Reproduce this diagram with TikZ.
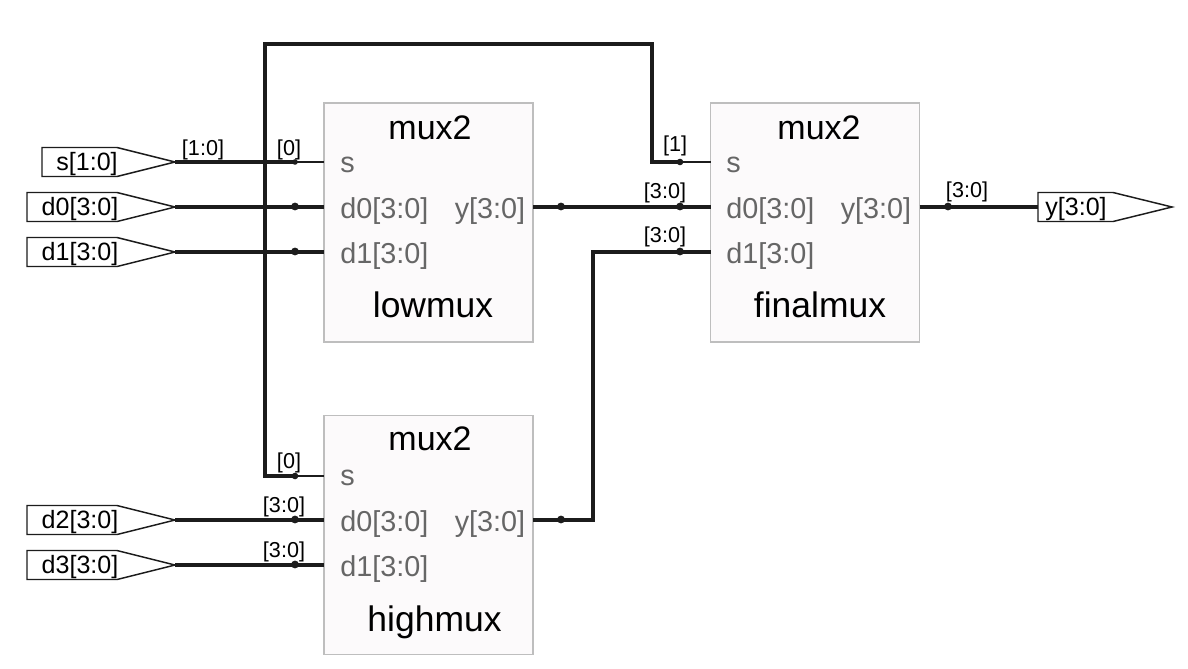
\documentclass[tikz,border=0pt]{standalone}
\usepackage{fontspec}
\setmainfont{Liberation Sans}
\usetikzlibrary{calc}
\definecolor{wirec}{HTML}{1C1C1C}
\definecolor{portc}{HTML}{666666}
\definecolor{boxf}{HTML}{FCFAFB}
\definecolor{boxd}{HTML}{BEBEBE}
\newcommand{\pinfont}{\fontsize{18.8pt}{20pt}\selectfont}
\newcommand{\titlefont}{\fontsize{25.5pt}{28pt}\selectfont}
\newcommand{\namefont}{\fontsize{26.6pt}{28pt}\selectfont}
\newcommand{\portfont}{\fontsize{21.6pt}{24pt}\selectfont}
\newcommand{\bitfont}{\fontsize{16.2pt}{18pt}\selectfont}
\tikzset{
  modbox/.style={draw=boxd,fill=boxf,line width=1.1pt,minimum width=156.75pt,minimum height=179.25pt,inner sep=0pt,outer sep=0pt},
  title/.style={font=\titlefont,text=black,anchor=base,inner sep=0pt},
  instname/.style={font=\namefont,text=black,anchor=base,inner sep=0pt},
  portl/.style={font=\portfont,text=portc,anchor=base west,inner sep=0pt},
  portr/.style={font=\portfont,text=portc,anchor=base east,inner sep=0pt},
  pinshape/.style={draw=wirec,fill=white,line width=1.1pt,line join=miter},
  pintext/.style={font=\pinfont,text=black,anchor=base,inner sep=0pt},
  bit/.style={font=\bitfont,text=black,anchor=base,inner sep=0pt},
  bus/.style={draw=wirec,line width=2.8pt,line join=miter},
  thinw/.style={draw=wirec,line width=1.1pt},
  jbig/.style={fill=wirec,draw=none},
}
\newcommand{\inpin}[5]{% name, left x, tip y, text centre x, text
  \draw[pinshape] (#2,#3-14.5) -- (117,#3-14.5) -- (175,#3) -- (117,#3+14.5) -- (#2,#3+14.5) -- cycle;
  \coordinate (#1) at (175,#3);
  \node[pintext] (#1t) at (#4,#3+8.5) {#5};
}
\newcommand{\jdot}[2]{\fill[jbig] (#1) ellipse [x radius=#2,y radius=#2];}
\begin{document}
\begin{tikzpicture}[x=0.75pt,y=-0.75pt]
\useasboundingbox (0,0) rectangle (1188,668);
\fill[white] (0,0) rectangle (1188,668);
% module boxes
\node[modbox] (lowmux) at (428.5,222.5) {};
\node[modbox] (highmux) at (428.5,535) {};
\node[modbox] (finalmux) at (815,222.5) {};
% ports
\foreach \m/\ys/\yza/\yzb in {lowmux/162/207/252,highmux/476/520/565,finalmux/162/207/252}{
  \coordinate (\m-s) at (\m.west |- 0,\ys);
  \coordinate (\m-d0) at (\m.west |- 0,\yza);
  \coordinate (\m-d1) at (\m.west |- 0,\yzb);
  \coordinate (\m-y) at (\m.east |- 0,\yza);
}
% pins
\inpin{s}{42}{162}{87}{s[1:0]}
\inpin{dzero}{27}{207}{80}{d0[3:0]}
\inpin{done}{27}{252}{80}{d1[3:0]}
\inpin{dtwo}{27}{520}{80}{d2[3:0]}
\inpin{dthree}{27}{565}{80}{d3[3:0]}
\draw[pinshape] (1038,192.5) -- (1113,192.5) -- (1172,207) -- (1113,221.5) -- (1038,221.5) -- cycle;
\coordinate (yout) at (1038,207);
\node[pintext] (youtt) at (1076,215.5) {y[3:0]};
% junction coordinates
\coordinate (js) at (295,162);
\coordinate (jf) at (680,162);
\coordinate (jh) at (295,476);
\coordinate (top) at (265,162);
\coordinate (topl) at (265,44);
\coordinate (topr) at (652,44);
% wires
\draw[bus] (s) -- (js);
\draw[thinw] (js) -- (lowmux-s);
\draw[bus] (jh) -| (top);
\draw[bus] (top) -- (topl) -- (topr) |- (jf);
\draw[thinw] (jf) -- (finalmux-s);
\draw[thinw] (jh) -- (highmux-s);
\draw[bus] (dzero) -- (lowmux-d0);
\draw[bus] (done) -- (lowmux-d1);
\draw[bus] (dtwo) -- (highmux-d0);
\draw[bus] (dthree) -- (highmux-d1);
\draw[bus] (lowmux-y) -- (finalmux-d0);
\coordinate (hbend) at (593,520);
\draw[bus] (highmux-y) -- (hbend) |- (finalmux-d1);
\draw[bus] (finalmux-y) -- (yout);
% junction dots
\jdot{js}{2.8}
\jdot{jf}{3.3}
\jdot{jh}{3.3}
\foreach \px/\py in {295/206.5,295/251.5,295/519.5,295/564.5,561/206.5,680/206.5,680/251.5,561/519.5,948/206.5}{
  \fill[jbig] (\px,\py) circle [radius=3.9];
}
% module text
\node[title] (lt) at (430,139.5) {mux2};
\node[instname] (ln) at (433,317) {lowmux};
\node[portl] (ls) at (340,172.5) {s};
\node[portl] (ld0) at (340,218) {d0[3:0]};
\node[portl] (ld1) at (340,263) {d1[3:0]};
\node[portr] (ly) at (525.5,218) {y[3:0]};
\node[title] (ht) at (430,450.5) {mux2};
\node[instname] (hn) at (434.5,631) {highmux};
\node[portl] (hs) at (340,485.5) {s};
\node[portl] (hd0) at (340,531) {d0[3:0]};
\node[portl] (hd1) at (340,576) {d1[3:0]};
\node[portr] (hy) at (525.5,531) {y[3:0]};
\node[title] (ft) at (819,139.5) {mux2};
\node[instname] (fn) at (820,317) {finalmux};
\node[portl] (fs) at (726,172.5) {s};
\node[portl] (fd0) at (726,218) {d0[3:0]};
\node[portl] (fd1) at (726,263) {d1[3:0]};
\node[portr] (fy) at (911.5,218) {y[3:0]};
% bit labels
\node[bit] (b1) at (203,155) {[1:0]};
\node[bit] (b2) at (289,155) {[0]};
\node[bit] (b3) at (675,151) {[1]};
\node[bit] (b4) at (665,198) {[3:0]};
\node[bit] (b5) at (665,242) {[3:0]};
\node[bit] (b6) at (967,197) {[3:0]};
\node[bit] (b7) at (289,468) {[0]};
\node[bit] (b8) at (284,512) {[3:0]};
\node[bit] (b9) at (284,557) {[3:0]};
\end{tikzpicture}
\end{document}
